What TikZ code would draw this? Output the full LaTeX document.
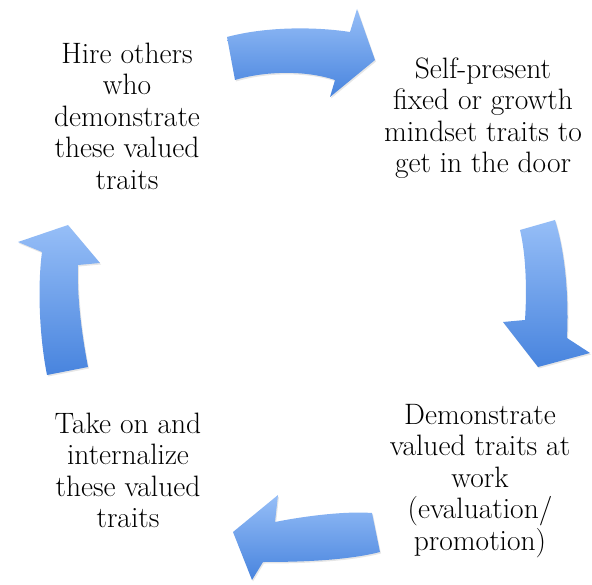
\documentclass[tikz,border=0pt]{standalone}
\usepackage{fontspec}
\usetikzlibrary{shadows}

\definecolor{flechehaut}{RGB}{150,190,247}
\definecolor{flechebas}{RGB}{72,132,222}

\begin{document}
\begin{tikzpicture}[x=1pt, y=-1pt]

        % Styles
        \tikzstyle{stage}=[align=center, inner sep=0pt, anchor=north, font=\fontsize{29.5}{31.5}\selectfont]
        \tikzstyle{bigarrow}=[top color=flechehaut, bottom color=flechebas, draw=none,
                drop shadow={opacity=0.2, shadow xshift=1pt, shadow yshift=-1.5pt}]

        \useasboundingbox (0,0) rectangle (592,585);

        % Texts
        \node[stage] (hire) at (127,42.5) {Hire others\\who\\demonstrate\\these valued\\traits};
        \node[stage] (selfpres) at (483,57.5) {Self-present\\fixed or growth\\mindset traits to\\get in the door};
        \node[stage] (demo) at (480,404) {Demonstrate\\valued traits at\\work\\(evaluation/\\promotion)};
        \node[stage] (takeon) at (128,412.5) {Take on and\\internalize\\these valued\\traits};

        % Arrows
        \path[bigarrow] (227,37) .. controls (268,26) and (318,27) .. (350,32) -- (357,9) -- (375,60)
                -- (330,97) -- (335,80) .. controls (305,70) and (265,71) .. (235,80) -- cycle;
        \path[bigarrow] (520,230) -- (555,220) .. controls (565,252) and (569,295) .. (567,338)
                -- (590,353) -- (538,367) -- (503,322) -- (525,320) .. controls (527,290) and (526,255) .. (520,230) -- cycle;
        \path[bigarrow] (372,513) -- (380,552) .. controls (345,561) and (295,562) .. (263,562)
                -- (252,580) -- (233,532) -- (278,495) -- (275,522) .. controls (305,516) and (345,511) .. (372,513) -- cycle;
        \path[bigarrow] (47,375) -- (88,367) .. controls (81,330) and (77,295) .. (78,265)
                -- (100,263) -- (68,225) -- (18,242) -- (42,252) .. controls (37,290) and (40,340) .. (47,375) -- cycle;

    \end{tikzpicture}
\end{document}
